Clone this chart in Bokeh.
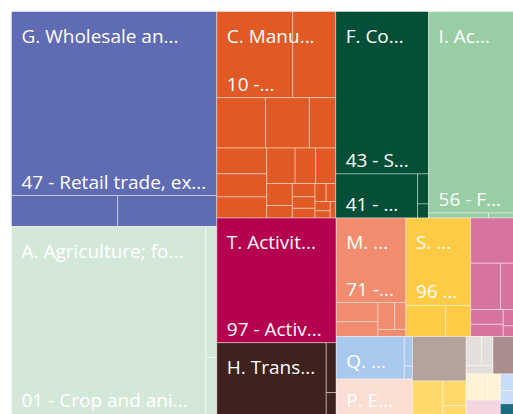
import math
from bokeh.plotting import figure
from bokeh.models import Range1d, ColumnDataSource
from bokeh.core.properties import value
from bokeh.embed import file_html
from bokeh.resources import INLINE

# ---------------- data ----------------
sections = ["G", "A", "C", "F", "I", "T", "H", "M", "S", "N", "Q", "P",
            "J", "R", "K", "L", "E", "O", "B", "D"]
section_labels = ["G. Wholesale an...", "A. Agriculture; fo...", "C. Manu...", "F. Co...",
                  "I. Ac...", "T. Activit...", "H. Trans...", "M. ...", "S. ...", "",
                  "Q. ...", "P. E...", "", "", "", "", "", "", "", ""]
section_colors = ["#5F6BB2", "#D4E8DA", "#E15A25", "#044F37", "#99CDA6", "#B4004F",
                  "#3E221D", "#F28C6F", "#FFCB45", "#D6739F", "#A9C8EE", "#FADED4",
                  "#B3A39A", "#FFD86C", "#E4DEDC", "#A88F8D", "#FFF2D5", "#F3D6E0",
                  "#C8DDF6", "#1D6B7E"]

vals_G = [37720, 3286, 3069]
vals_A = [36860, 1441, 649]
vals_C = [6536, 3698, 2450, 2200, 1320, 1290, 1150, 1050, 1008, 730, 710,
          560, 320, 300, 260, 220, 200, 170, 140, 110, 90]
vals_F = [15066, 3608, 330, 154]
vals_I = [18090, 300, 150]
vals_T = [14875]
vals_H = [8066, 500, 240]
vals_M = [5880, 800, 620, 450, 300, 200]
vals_S = [5655, 1240, 775]
vals_N = [2160, 1380, 830, 480, 400, 250, 164]
vals_Q = [2881, 240, 104]
vals_P = [2850]
vals_J = [2385]
vals_R = [1080, 575, 253]
vals_K = [440, 330, 230]
vals_L = [950]
vals_E = [560, 331]
vals_O = [560]
vals_B = [300, 240]
vals_D = [231]

labels_G = ["47 - Retail trade, ex...", "", ""]
labels_A = ["01 - Crop and ani...", "", ""]
labels_C = ["10 -..."]
labels_F = ["43 - S...", "41 - ..."]
labels_I = ["56 - F..."]
labels_T = ["97 - Activ..."]
labels_M = ["71 -..."]
labels_S = ["96 ..."]

section_values = [vals_G, vals_A, vals_C, vals_F, vals_I, vals_T, vals_H, vals_M, vals_S,
                  vals_N, vals_Q, vals_P, vals_J, vals_R, vals_K, vals_L, vals_E, vals_O,
                  vals_B, vals_D]
child_labels = {"G": labels_G, "A": labels_A, "C": labels_C, "F": labels_F,
                "I": labels_I, "T": labels_T, "M": labels_M, "S": labels_S}

# ---------------- squarified layout (golden ratio) ----------------
PHI = (1 + 5 ** 0.5) / 2


def squarify(values, x0, y0, x1, y1, ratio=PHI):
    rects = []
    n = len(values)
    total = float(sum(values))
    i0 = i1 = 0
    while i0 < n:
        dx, dy = x1 - x0, y1 - y0
        s = values[i1]
        i1 += 1
        mn = mx = s
        alpha = max(dy / dx, dx / dy) / (total * ratio)
        beta = s * s * alpha
        best = max(mx / beta, beta / mn)
        while i1 < n:
            v = values[i1]
            s2 = s + v
            mn2, mx2 = min(mn, v), max(mx, v)
            beta = s2 * s2 * alpha
            r = max(mx2 / beta, beta / mn2)
            if r > best:
                break
            s, mn, mx, best = s2, mn2, mx2, r
            i1 += 1
        row = values[i0:i1]
        if dx < dy:
            yb = y0 + dy * s / total if total else y1
            x = x0
            k = (x1 - x0) / s
            for v in row:
                rects.append((x, y0, x + v * k, yb))
                x += v * k
            y0 = yb
        else:
            xb = x0 + dx * s / total if total else x1
            y = y0
            k = (y1 - y0) / s
            for v in row:
                rects.append((x0, y, xb, y + v * k))
                y += v * k
            x0 = xb
        total -= s
        i0 = i1
    return rects


W, H = 507, 405
Y_LAST = 388  # lowest label centre that still fits in the visible area
totals = [sum(v) for v in section_values]
top_rects = squarify(totals, 0, 0, W, H)

L, R, T, B, C = [], [], [], [], []
gx, gy, gt = [], [], []
cx, cy, ct = [], [], []
for sec, lab, col, vals, rect in zip(sections, section_labels, section_colors,
                                     section_values, top_rects):
    kids = squarify(vals, *rect)
    for (a, b, c, d) in kids:
        L.append(a); R.append(c); T.append(b); B.append(d); C.append(col)
    if lab:
        gx.append(rect[0] + 10); gy.append(min(rect[1] + 24, Y_LAST)); gt.append(lab)
    for i, cl in enumerate(child_labels.get(sec, [])):
        if cl:
            a, b, c, d = kids[i]
            cx.append(a + 10); cy.append(min(d - 14, Y_LAST)); ct.append(cl)

p = figure(width=513, height=414, x_range=Range1d(-11, 502), y_range=Range1d(403, -11),
           output_backend="svg", toolbar_location=None, min_border=0,
           x_axis_location=None, y_axis_location=None)
p.grid.visible = False
p.outline_line_color = None
p.background_fill_color = "white"
p.border_fill_color = "white"

src = ColumnDataSource(dict(left=L, right=R, top=T, bottom=B, color=C))
p.quad(left="left", right="right", top="top", bottom="bottom", source=src,
       fill_color="color", line_color="white", line_alpha=0.4, line_width=1)

p.text(x=gx, y=gy, text=gt, text_font=value("Open Sans"), text_font_size="19px",
       text_color="white", text_baseline="middle", text_align="left")
p.text(x=cx, y=cy, text=ct, text_font=value("Open Sans"), text_font_size="19px",
       text_color="white", text_baseline="middle", text_align="left")

open("out.html", "w").write(file_html(p, INLINE))
